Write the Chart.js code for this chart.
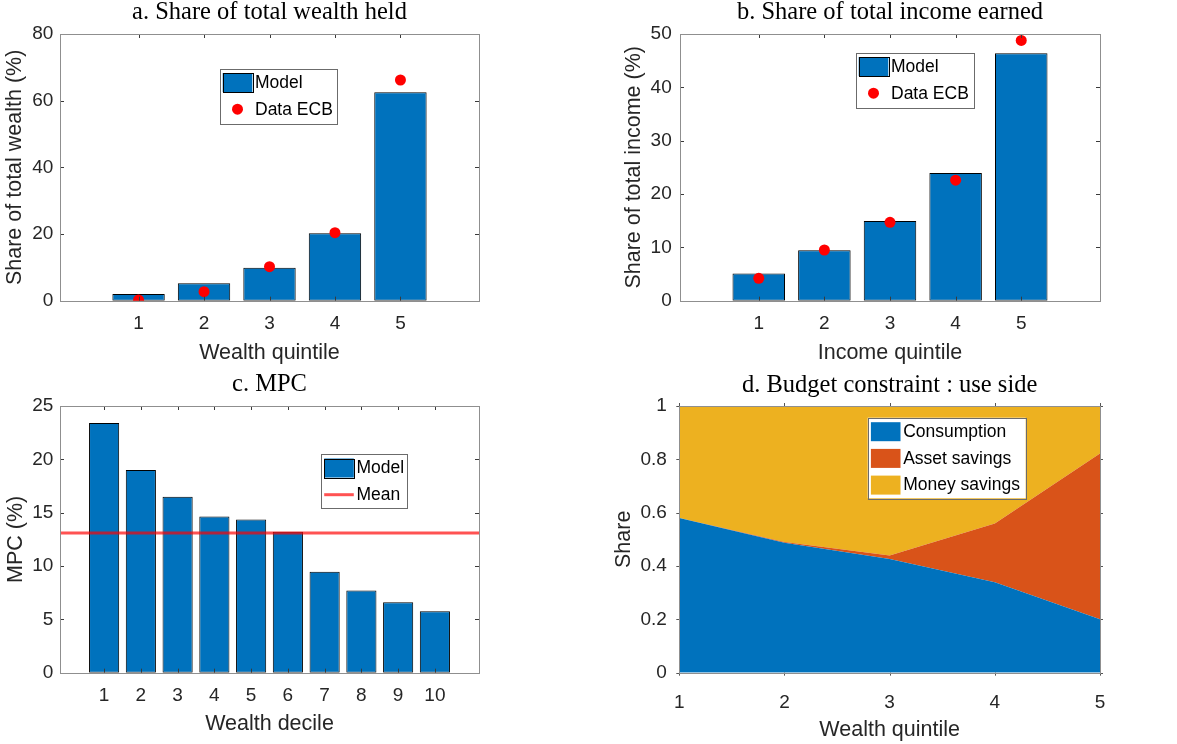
<!DOCTYPE html>
<html><head><meta charset="utf-8">
<script src="https://cdn.jsdelivr.net/npm/chart.js@4.4.1/dist/chart.umd.min.js"></script>
<style>
body{margin:0;background:#fff;width:1177px;height:744px;overflow:hidden;position:relative}
.p{position:absolute} canvas{display:block}
</style></head>
<body>
<div class="p" style="left:0;top:0"><canvas id="ca" width="590" height="370"></canvas></div>
<div class="p" style="left:590px;top:0"><canvas id="cb" width="587" height="370"></canvas></div>
<div class="p" style="left:0;top:370px"><canvas id="cc" width="590" height="374"></canvas></div>
<div class="p" style="left:590px;top:370px"><canvas id="cd" width="587" height="374"></canvas></div>
<script>
// ---------- data ----------
const quintiles = [1, 2, 3, 4, 5];
const deciles = [1, 2, 3, 4, 5, 6, 7, 8, 9, 10];
const wealthModel = [2.0, 5.2, 9.9, 20.2, 62.5];
const wealthData  = [0.2, 2.7, 10.2, 20.4, 66.2];
const incomeModel = [5.1, 9.45, 14.95, 23.95, 46.4];
const incomeData  = [4.2, 9.5, 14.7, 22.6, 48.8];
const mpcModel = [23.4, 19.0, 16.5, 14.65, 14.35, 13.2, 9.45, 7.7, 6.6, 5.75];
const mpcMean = [13.1];
const consumption  = [0.58, 0.487, 0.426, 0.339, 0.20];
const assetSavings = [0.0, 0.003, 0.013, 0.22, 0.622];
const moneySavings = [0.42, 0.51, 0.561, 0.441, 0.178];
const yTicksA = [0, 20, 40, 60, 80];
const yTicksB = [0, 10, 20, 30, 40, 50];
const yTicksC = [0, 5, 10, 15, 20, 25];
const yTicksD = [0, 0.2, 0.4, 0.6, 0.8, 1];
const xRangeQuint = [-0.2, 6.2];
const xRangeDec = [-0.2, 11.2];

// ---------- styles ----------
const SANS = "'Liberation Sans', Arial, sans-serif";
const SERIF = "'Liberation Serif', 'Times New Roman', serif";
const BLUE = '#0072BD', RED = '#FF0000', ORANGE = '#D95319', YELLOW = '#EDB120';
const TXT = '#262626';
const tickFont = {family: SANS, size: 19, lineHeight: 1};
const axTitleFont = {family: SANS, size: 21.5, lineHeight: 1};
const titleFont = {family: SERIF, size: 24.5, lineHeight: 1, weight: 'normal'};

const pts = (xs, ys) => xs.map((x, i) => ({x: x, y: ys[i]}));

// frame + tick marks
const frame = {
  id: 'frame',
  afterDatasetsDraw(chart, args, o) {
    const {ctx, chartArea: {left, right, top, bottom}, scales: {x, y}} = chart;
    ctx.save();
    ctx.lineWidth = 1;
    ctx.strokeStyle = o.tickColor;
    const L = o.len;
    ctx.beginPath();
    x.ticks.forEach(t => {
      const px = Math.round(x.getPixelForValue(t.value)) + 0.5;
      if (o.mode === 'in') {
        ctx.moveTo(px, bottom); ctx.lineTo(px, bottom - L);
        ctx.moveTo(px, top); ctx.lineTo(px, top + L);
      } else {
        ctx.moveTo(px, bottom); ctx.lineTo(px, bottom + L);
        ctx.moveTo(px, top); ctx.lineTo(px, top - L);
      }
    });
    y.ticks.forEach(t => {
      const py = Math.round(y.getPixelForValue(t.value)) + 0.5;
      if (o.mode === 'in') {
        ctx.moveTo(left, py); ctx.lineTo(left + L, py);
        ctx.moveTo(right, py); ctx.lineTo(right - L, py);
      } else {
        ctx.moveTo(left, py); ctx.lineTo(left - L, py);
        ctx.moveTo(right, py); ctx.lineTo(right + L, py);
      }
    });
    ctx.stroke();
    ctx.strokeStyle = o.color;
    ctx.strokeRect(Math.round(left) + 0.5, Math.round(top) + 0.5, Math.round(right - left), Math.round(bottom - top));
    ctx.restore();
  }
};

// boxed legend
const boxLegend = {
  id: 'boxLegend',
  afterDraw(chart, args, o) {
    const ctx = chart.ctx;
    const b = o.box;
    ctx.save();
    ctx.fillStyle = '#fff';
    ctx.fillRect(b.left, b.top, b.width, b.height);
    ctx.strokeStyle = '#6b6b6b';
    ctx.lineWidth = 1;
    ctx.strokeRect(Math.round(b.left) + 0.5, Math.round(b.top) + 0.5, Math.round(b.width), Math.round(b.height));
    ctx.font = '17.5px ' + SANS;
    ctx.textBaseline = 'middle';
    ctx.textAlign = 'left';
    chart.data.datasets.forEach((ds, i) => {
      const cy = b.top + 14 + i * 26.7;
      const sx = b.left + 3.2, sw = 29.6, sh = 19;
      if (ds.legendKind === 'bar' || ds.legendKind === 'area') {
        ctx.fillStyle = ds.backgroundColor;
        ctx.fillRect(sx, cy - sh / 2, sw, sh);
        if (ds.legendKind === 'bar') {
          ctx.strokeStyle = '#000';
          ctx.strokeRect(Math.round(sx) + 0.5, Math.round(cy - sh / 2) + 0.5, Math.round(sw), Math.round(sh));
        }
      } else if (ds.legendKind === 'dot') {
        ctx.fillStyle = ds.backgroundColor;
        ctx.beginPath(); ctx.arc(sx + sw / 2, cy, 5.5, 0, Math.PI * 2); ctx.fill();
      } else if (ds.legendKind === 'line') {
        ctx.strokeStyle = ds.borderColor; ctx.lineWidth = ds.borderWidth;
        ctx.beginPath(); ctx.moveTo(sx, cy); ctx.lineTo(sx + sw, cy); ctx.stroke();
        ctx.lineWidth = 1;
      }
      ctx.fillStyle = '#000';
      ctx.fillText(ds.label, b.left + 35.5, cy + 0.5);
    });
    ctx.restore();
  }
};

function xScale(range, ticks, title, tickPad, titlePadB, height) {
  return {
    type: 'linear', min: range[0], max: range[1], offset: false,
    afterBuildTicks: s => { s.ticks = ticks.map(v => ({value: v})); },
    afterFit: s => { s.height = height; },
    grid: {display: false, drawTicks: false},
    border: {display: false},
    ticks: {font: tickFont, color: TXT, padding: tickPad, autoSkip: false, maxRotation: 0, minRotation: 0,
            callback: v => String(v)},
    title: {display: true, text: title, font: axTitleFont, color: TXT, padding: {top: 0, bottom: titlePadB}}
  };
}
function yScale(ticks, title, tickPad, titlePadT, width, stacked) {
  return {
    type: 'linear', min: ticks[0], max: ticks[ticks.length - 1], stacked: !!stacked,
    afterBuildTicks: s => { s.ticks = ticks.map(v => ({value: v})); },
    afterFit: s => { s.width = width; },
    grid: {display: false, drawTicks: false},
    border: {display: false},
    ticks: {font: tickFont, color: TXT, padding: tickPad, callback: v => String(v)},
    title: {display: true, text: title, font: axTitleFont, color: TXT, padding: {top: titlePadT, bottom: 0}}
  };
}
function titleOpt(text, pt, pb) {
  return {display: true, text: text, fullSize: false, font: titleFont, color: '#000', padding: {top: pt, bottom: pb}};
}
const common = {responsive: false, animation: false, devicePixelRatio: 1, events: []};

// ---------- a ----------
new Chart(document.getElementById('ca'), {
  type: 'bar',
  data: {datasets: [
    {type: 'bar', label: 'Model', legendKind: 'bar', data: pts(quintiles, wealthModel), backgroundColor: BLUE,
     borderColor: '#000', borderWidth: 1, borderSkipped: false, categoryPercentage: 1, barPercentage: 0.8, order: 1},
    {type: 'scatter', label: 'Data ECB', legendKind: 'dot', data: pts(quintiles, wealthData), backgroundColor: RED,
     borderWidth: 0, pointRadius: 5.5, order: 0}
  ]},
  options: Object.assign({}, common, {
    layout: {padding: {left: 0, top: 0, right: 590 - 479, bottom: 0}},
    scales: {x: xScale(xRangeQuint, quintiles, 'Wealth quintile', 13.1, 6.5, 370 - 300.67),
             y: yScale(yTicksA, 'Share of total wealth (%)', 6.7, 4.25, 60)},
    plugins: {legend: {display: false}, tooltip: {enabled: false},
      title: titleOpt('a. Share of total wealth held', 0.3, 9.2),
      frame: {mode: 'in', len: 4, color: '#8f8f8f', tickColor: '#3a3a3a'},
      boxLegend: {box: {left: 219.5, top: 68.5, width: 117, height: 55}}}
  }),
  plugins: [frame, boxLegend]
});

// ---------- b ----------
new Chart(document.getElementById('cb'), {
  type: 'bar',
  data: {datasets: [
    {type: 'bar', label: 'Model', legendKind: 'bar', data: pts(quintiles, incomeModel), backgroundColor: BLUE,
     borderColor: '#000', borderWidth: 1, borderSkipped: false, categoryPercentage: 1, barPercentage: 0.8, order: 1},
    {type: 'scatter', label: 'Data ECB', legendKind: 'dot', data: pts(quintiles, incomeData), backgroundColor: RED,
     borderWidth: 0, pointRadius: 5.5, order: 0}
  ]},
  options: Object.assign({}, common, {
    layout: {padding: {left: 0, top: 0, right: 587 - 510, bottom: 0}},
    scales: {x: xScale(xRangeQuint, quintiles, 'Income quintile', 13.1, 6.5, 370 - 300.67),
             y: yScale(yTicksB, 'Share of total income (%)', 8.3, 33.6, 90)},
    plugins: {legend: {display: false}, tooltip: {enabled: false},
      title: titleOpt('b. Share of total income earned', 0, 9.5),
      frame: {mode: 'in', len: 4, color: '#8f8f8f', tickColor: '#3a3a3a'},
      boxLegend: {box: {left: 265.5, top: 52.5, width: 117.5, height: 55}}}
  }),
  plugins: [frame, boxLegend]
});

// ---------- c ----------
new Chart(document.getElementById('cc'), {
  type: 'bar',
  data: {datasets: [
    {type: 'bar', label: 'Model', legendKind: 'bar', data: pts(deciles, mpcModel), backgroundColor: BLUE,
     borderColor: '#000', borderWidth: 1, borderSkipped: false, categoryPercentage: 1, barPercentage: 0.82, order: 1},
    {type: 'line', label: 'Mean', legendKind: 'line',
     data: [{x: xRangeDec[0], y: mpcMean[0]}, {x: xRangeDec[1], y: mpcMean[0]}],
     borderColor: 'rgba(255,0,0,0.68)', borderWidth: 3, pointRadius: 0, fill: false, order: 0}
  ]},
  options: Object.assign({}, common, {
    layout: {padding: {left: 0, top: 0, right: 590 - 479, bottom: 0}},
    scales: {x: xScale(xRangeDec, deciles, 'Wealth decile', 13.3, 8.85, 374 - 302.67),
             y: yScale(yTicksC, 'MPC (%)', 6.7, 5.3, 60)},
    plugins: {legend: {display: false}, tooltip: {enabled: false},
      title: titleOpt('c. MPC', 1.95, 9.55),
      frame: {mode: 'in', len: 4, color: '#8f8f8f', tickColor: '#3a3a3a'},
      boxLegend: {box: {left: 321, top: 84, width: 86, height: 54}}}
  }),
  plugins: [frame, boxLegend]
});

// ---------- d ----------
new Chart(document.getElementById('cd'), {
  type: 'line',
  data: {datasets: [
    {label: 'Consumption', legendKind: 'area', data: pts(quintiles, consumption), backgroundColor: BLUE,
     borderColor: BLUE, borderWidth: 0, pointRadius: 0, fill: 'origin', tension: 0},
    {label: 'Asset savings', legendKind: 'area', data: pts(quintiles, assetSavings), backgroundColor: ORANGE,
     borderColor: ORANGE, borderWidth: 0, pointRadius: 0, fill: '-1', tension: 0},
    {label: 'Money savings', legendKind: 'area', data: pts(quintiles, moneySavings), backgroundColor: YELLOW,
     borderColor: YELLOW, borderWidth: 0, pointRadius: 0, fill: '-1', tension: 0}
  ]},
  options: Object.assign({}, common, {
    layout: {padding: {left: 0, top: 0, right: 587 - 510, bottom: 0}},
    scales: {x: xScale([quintiles[0], quintiles[quintiles.length - 1]], quintiles, 'Wealth quintile', 21, 2.75, 374 - 302.67),
             y: yScale(yTicksD, 'Share', 12.4, 23.6, 89.3, true)},
    plugins: {legend: {display: false}, tooltip: {enabled: false},
      filler: {propagate: false},
      title: titleOpt('d. Budget constraint : use side', 3.55, 7.95),
      frame: {mode: 'out', len: 3, color: '#8f8f8f', tickColor: '#555'},
      boxLegend: {box: {left: 277.7, top: 47.7, width: 158, height: 80.6}}}
  }),
  plugins: [frame, boxLegend]
});
</script>
</body></html>
